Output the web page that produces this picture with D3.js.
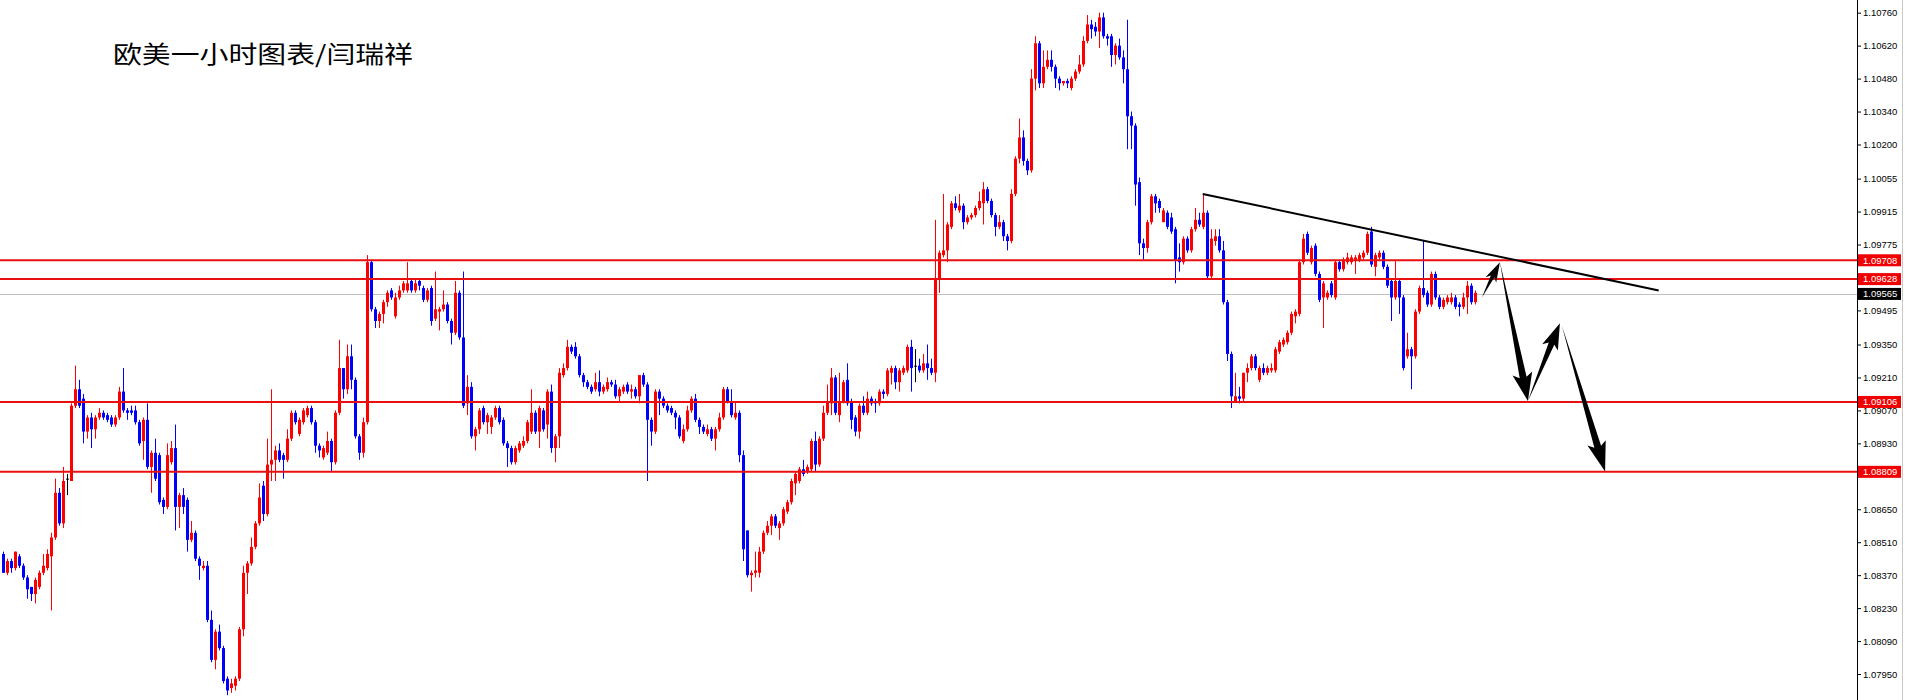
<!DOCTYPE html>
<html>
<head>
<meta charset="utf-8">
<script src="https://cdn.jsdelivr.net/npm/d3@7"></script>
<style>
html, body { margin: 0; padding: 0; background: #fff; overflow: hidden; }
svg { display: block; }
</style>
</head>
<body>
<svg id="chart" width="1905" height="700"></svg>
<script>
// EURUSD 1 hour candles (oldest first)
const opens = [
  1.0846,1.0838,1.0843,1.0840,1.0845,1.0841,1.0836,1.0832,1.0829,1.0832,
  1.0838,1.0840,1.0845,1.0853,1.0872,1.0859,1.0878,1.0877,1.0909,1.0916,
  1.0912,1.0898,1.0904,1.0899,1.0904,1.0906,1.0905,1.0904,1.0901,1.0904,
  1.0915,1.0907,1.0907,1.0907,1.0902,1.0894,1.0903,1.0883,1.0889,1.0888,
  1.0869,1.0866,1.0885,1.0891,1.0866,1.0871,1.0869,1.0852,1.0855,1.0844,
  1.0840,1.0841,1.0818,1.0801,1.0813,1.0806,1.0793,1.0789,1.0790,1.0793,
  1.0814,1.0838,1.0842,1.0849,1.0859,1.0875,1.0863,1.0884,1.0886,1.0890,
  1.0888,1.0886,1.0895,1.0906,1.0897,1.0902,1.0905,1.0908,1.0902,1.0892,
  1.0887,1.0889,1.0894,1.0885,1.0906,1.0925,1.0916,1.0930,1.0920,1.0896,
  1.0889,1.0902,1.0970,1.0950,1.0945,1.0948,1.0953,1.0958,1.0947,1.0955,
  1.0958,1.0958,1.0962,1.0958,1.0962,1.0959,1.0954,1.0959,1.0946,1.0949,
  1.0950,1.0952,1.0945,1.0940,1.0957,1.0938,1.0910,1.0917,1.0896,1.0899,
  1.0908,1.0902,1.0900,1.0904,1.0908,1.0903,1.0893,1.0891,1.0885,1.0890,
  1.0892,1.0894,1.0898,1.0906,1.0898,1.0907,1.0901,1.0915,1.0891,1.0896,
  1.0922,1.0925,1.0934,1.0934,1.0930,1.0922,1.0919,1.0917,1.0916,1.0919,
  1.0915,1.0916,1.0919,1.0918,1.0913,1.0915,1.0918,1.0915,1.0916,1.0913,
  1.0922,1.0918,1.0903,1.0898,1.0915,1.0912,1.0909,1.0908,1.0906,1.0904,
  1.0894,1.0899,1.0907,1.0912,1.0903,1.0900,1.0897,1.0899,1.0895,1.0899,
  1.0904,1.0916,1.0911,1.0904,1.0906,1.0888,1.0856,1.0837,1.0838,1.0838,
  1.0847,1.0855,1.0858,1.0862,1.0857,1.0859,1.0864,1.0868,1.0876,1.0877,
  1.0882,1.0881,1.0882,1.0894,1.0884,1.0895,1.0906,1.0910,1.0921,1.0905,
  1.0911,1.0920,1.0911,1.0904,1.0898,1.0909,1.0906,1.0912,1.0911,1.0910,
  1.0915,1.0914,1.0923,1.0925,1.0919,1.0923,1.0924,1.0934,1.0926,1.0926,
  1.0924,1.0927,1.0925,1.0923,1.0963,1.0973,1.0975,1.0985,1.0995,1.0992,
  1.0994,1.0987,1.0989,1.0990,1.0993,1.0995,1.1001,1.0996,1.0990,1.0985,
  1.0987,1.0981,1.0979,1.0999,1.1014,1.1023,1.1013,1.1009,1.1048,1.1063,
  1.1046,1.1053,1.1056,1.1053,1.1048,1.1046,1.1047,1.1044,1.1048,1.1051,
  1.1054,1.1064,1.1071,1.1070,1.1068,1.1074,1.1066,1.1066,1.1058,1.1062,
  1.1057,1.1052,1.1032,1.1028,1.1004,1.0978,1.0976,1.0987,1.0998,1.0996,
  1.0987,1.0991,1.0989,1.0984,1.0972,1.0970,1.0980,1.0975,1.0984,1.0988,
  1.0985,1.0991,1.0964,1.0979,1.0981,1.0975,1.0953,1.0931,1.0911,1.0913,
  1.0912,1.0923,1.0925,1.0930,1.0920,1.0925,1.0923,1.0924,1.0924,1.0932,
  1.0935,1.0936,1.0940,1.0947,1.0948,1.0970,1.0982,1.0970,1.0977,1.0965,
  1.0955,1.0955,1.0961,1.0955,1.0970,1.0967,1.0970,1.0970,1.0971,1.0971,
  1.0972,1.0974,1.0983,1.0968,1.0972,1.0974,1.0968,1.0962,1.0955,1.0962,
  1.0955,1.0930,1.0933,1.0930,1.0949,1.0959,1.0957,1.0952,1.0965,1.0955,
  1.0951,1.0953,1.0953,1.0955,1.0952,1.0951,1.0955,1.0960,1.0953
];
const highs = [
  1.0847,1.0844,1.0844,1.0847,1.0846,1.0842,1.0837,1.0832,1.0836,1.0839,
  1.0846,1.0848,1.0855,1.0878,1.0874,1.0883,1.0880,1.0910,1.0926,1.0920,
  1.0914,1.0905,1.0906,1.0905,1.0908,1.0907,1.0906,1.0905,1.0905,1.0917,
  1.0925,1.0908,1.0909,1.0909,1.0903,1.0904,1.0910,1.0890,1.0895,1.0889,
  1.0870,1.0893,1.0894,1.0901,1.0872,1.0874,1.0870,1.0860,1.0856,1.0845,
  1.0843,1.0843,1.0822,1.0814,1.0816,1.0807,1.0794,1.0793,1.0794,1.0815,
  1.0841,1.0843,1.0853,1.0860,1.0876,1.0877,1.0895,1.0916,1.0892,1.0893,
  1.0889,1.0899,1.0907,1.0907,1.0904,1.0908,1.0909,1.0909,1.0903,1.0893,
  1.0892,1.0898,1.0895,1.0907,1.0937,1.0925,1.0935,1.0935,1.0921,1.0897,
  1.0904,1.0973,1.0971,1.0951,1.0949,1.0954,1.0958,1.0959,1.0957,1.0960,
  1.0962,1.0970,1.0963,1.0963,1.0963,1.0960,1.0959,1.0960,1.0966,1.0951,
  1.0958,1.0953,1.0946,1.0962,1.0958,1.0966,1.0922,1.0919,1.0900,1.0908,
  1.0909,1.0906,1.0905,1.0909,1.0909,1.0904,1.0894,1.0892,1.0892,1.0894,
  1.0896,1.0903,1.0916,1.0907,1.0909,1.0908,1.0916,1.0918,1.0897,1.0925,
  1.0927,1.0937,1.0935,1.0936,1.0931,1.0923,1.0920,1.0918,1.0923,1.0924,
  1.0918,1.0921,1.0920,1.0920,1.0917,1.0918,1.0919,1.0918,1.0917,1.0922,
  1.0923,1.0919,1.0904,1.0916,1.0916,1.0913,1.0910,1.0909,1.0907,1.0905,
  1.0901,1.0909,1.0913,1.0914,1.0904,1.0901,1.0901,1.0900,1.0900,1.0906,
  1.0917,1.0917,1.0916,1.0911,1.0907,1.0890,1.0856,1.0839,1.0847,1.0849,
  1.0856,1.0860,1.0863,1.0863,1.0860,1.0866,1.0869,1.0878,1.0881,1.0883,
  1.0886,1.0884,1.0895,1.0898,1.0896,1.0909,1.0918,1.0925,1.0922,1.0923,
  1.0920,1.0927,1.0912,1.0905,1.0910,1.0913,1.0915,1.0913,1.0912,1.0916,
  1.0916,1.0925,1.0926,1.0926,1.0925,1.0926,1.0935,1.0937,1.0933,1.0929,
  1.0931,1.0935,1.0929,1.0988,1.0975,1.0999,1.0987,1.0996,1.0998,1.0999,
  1.0995,1.0990,1.0991,1.0994,1.1000,1.1004,1.1002,1.0997,1.0991,1.0990,
  1.0988,1.0982,1.1001,1.1015,1.1031,1.1026,1.1014,1.1052,1.1066,1.1064,
  1.1060,1.1060,1.1060,1.1054,1.1049,1.1047,1.1048,1.1049,1.1052,1.1058,
  1.1066,1.1075,1.1073,1.1072,1.1076,1.1076,1.1067,1.1067,1.1063,1.1065,
  1.1060,1.1073,1.1034,1.1029,1.1006,1.0980,1.0988,1.0999,1.0999,1.0997,
  1.0993,1.0992,1.0991,1.0985,1.0978,1.0981,1.0981,1.0985,1.0993,1.0991,
  1.0999,1.0992,1.0984,1.0984,1.0984,1.0979,1.0954,1.0932,1.0923,1.0917,
  1.0923,1.0927,1.0931,1.0931,1.0926,1.0927,1.0926,1.0927,1.0934,1.0937,
  1.0938,1.0941,1.0949,1.0950,1.0971,1.0982,1.0983,1.0977,1.0978,1.0966,
  1.0962,1.0958,1.0962,1.0971,1.0971,1.0972,1.0974,1.0973,1.0973,1.0974,
  1.0975,1.0983,1.0985,1.0974,1.0975,1.0975,1.0969,1.0963,1.0971,1.0963,
  1.0956,1.0940,1.0934,1.0950,1.0960,1.0979,1.0958,1.0966,1.0966,1.0956,
  1.0955,1.0956,1.0957,1.0956,1.0953,1.0957,1.0962,1.0961,1.0958
];
const lows = [
  1.0838,1.0837,1.0838,1.0839,1.0840,1.0835,1.0827,1.0826,1.0825,1.0831,
  1.0837,1.0839,1.0822,1.0852,1.0858,1.0857,1.0871,1.0877,1.0908,1.0908,
  1.0893,1.0895,1.0891,1.0895,1.0903,1.0903,1.0902,1.0900,1.0900,1.0903,
  1.0906,1.0903,1.0905,1.0901,1.0892,1.0886,1.0882,1.0872,1.0877,1.0867,
  1.0863,1.0865,1.0884,1.0856,1.0857,1.0863,1.0847,1.0851,1.0843,1.0835,
  1.0839,1.0817,1.0800,1.0797,1.0805,1.0791,1.0786,1.0787,1.0788,1.0792,
  1.0811,1.0829,1.0841,1.0848,1.0858,1.0860,1.0862,1.0877,1.0877,1.0885,
  1.0878,1.0885,1.0894,1.0901,1.0896,1.0901,1.0904,1.0901,1.0889,1.0887,
  1.0886,1.0888,1.0881,1.0884,1.0905,1.0912,1.0914,1.0916,1.0895,1.0886,
  1.0887,1.0901,1.0949,1.0942,1.0942,1.0944,1.0951,1.0954,1.0946,1.0954,
  1.0957,1.0957,1.0957,1.0957,1.0958,1.0953,1.0953,1.0943,1.0945,1.0941,
  1.0949,1.0944,1.0935,1.0939,1.0937,1.0908,1.0905,1.0895,1.0890,1.0897,
  1.0901,1.0897,1.0897,1.0903,1.0901,1.0892,1.0883,1.0884,1.0884,1.0889,
  1.0891,1.0893,1.0897,1.0897,1.0891,1.0898,1.0895,1.0889,1.0885,1.0891,
  1.0921,1.0924,1.0931,1.0929,1.0921,1.0917,1.0916,1.0914,1.0915,1.0913,
  1.0914,1.0915,1.0917,1.0912,1.0911,1.0914,1.0914,1.0912,1.0912,1.0910,
  1.0917,1.0877,1.0892,1.0897,1.0905,1.0908,1.0906,1.0905,1.0899,1.0895,
  1.0893,1.0898,1.0906,1.0902,1.0897,1.0897,1.0896,1.0894,1.0890,1.0898,
  1.0903,1.0910,1.0904,1.0903,1.0885,1.0843,1.0836,1.0830,1.0836,1.0836,
  1.0846,1.0854,1.0854,1.0857,1.0852,1.0858,1.0863,1.0867,1.0871,1.0876,
  1.0879,1.0880,1.0881,1.0881,1.0883,1.0894,1.0905,1.0905,1.0905,1.0902,
  1.0910,1.0909,1.0899,1.0896,1.0895,1.0905,1.0905,1.0909,1.0906,1.0909,
  1.0912,1.0913,1.0918,1.0916,1.0915,1.0922,1.0923,1.0915,1.0919,1.0923,
  1.0923,1.0920,1.0922,1.0919,1.0957,1.0972,1.0970,1.0984,1.0992,1.0991,
  1.0984,1.0986,1.0988,1.0989,1.0992,1.0986,1.0995,1.0989,1.0981,1.0984,
  1.0979,1.0975,1.0978,1.0998,1.1012,1.1011,1.1007,1.1008,1.1043,1.1044,
  1.1044,1.1052,1.1051,1.1044,1.1043,1.1045,1.1044,1.1043,1.1047,1.1050,
  1.1053,1.1063,1.1065,1.1066,1.1061,1.1065,1.1062,1.1053,1.1054,1.1056,
  1.1046,1.1018,1.1018,1.0994,1.0973,1.0971,1.0974,1.0986,1.0991,1.0991,
  1.0987,1.0984,1.0982,1.0961,1.0966,1.0969,1.0974,1.0974,1.0983,1.0985,
  1.0984,1.0963,1.0963,1.0977,1.0974,1.0952,1.0928,1.0908,1.0911,1.0910,
  1.0911,1.0919,1.0924,1.0924,1.0919,1.0922,1.0922,1.0923,1.0923,1.0931,
  1.0934,1.0935,1.0939,1.0944,1.0947,1.0969,1.0973,1.0969,1.0964,1.0953,
  1.0942,1.0954,1.0955,1.0954,1.0966,1.0966,1.0969,1.0969,1.0965,1.0970,
  1.0971,1.0973,1.0968,1.0964,1.0971,1.0967,1.0959,1.0945,1.0954,1.0948,
  1.0924,1.0929,1.0916,1.0929,1.0948,1.0955,1.0951,1.0951,1.0954,1.0950,
  1.0950,1.0952,1.0952,1.0950,1.0947,1.0950,1.0948,1.0952,1.0952
];
const closes = [
  1.0838,1.0843,1.0840,1.0847,1.0841,1.0836,1.0831,1.0829,1.0835,1.0838,
  1.0841,1.0846,1.0853,1.0872,1.0859,1.0877,1.0878,1.0909,1.0916,1.0909,
  1.0898,1.0904,1.0899,1.0904,1.0906,1.0904,1.0903,1.0901,1.0904,1.0915,
  1.0907,1.0906,1.0906,1.0902,1.0893,1.0903,1.0883,1.0889,1.0878,1.0868,
  1.0866,1.0888,1.0891,1.0866,1.0871,1.0866,1.0852,1.0855,1.0844,1.0841,
  1.0841,1.0818,1.0801,1.0813,1.0806,1.0792,1.0788,1.0791,1.0793,1.0814,
  1.0838,1.0842,1.0849,1.0859,1.0870,1.0863,1.0884,1.0886,1.0890,1.0886,
  1.0886,1.0895,1.0906,1.0902,1.0903,1.0907,1.0908,1.0902,1.0892,1.0890,
  1.0891,1.0894,1.0885,1.0906,1.0925,1.0916,1.0930,1.0920,1.0896,1.0889,
  1.0902,1.0970,1.0950,1.0945,1.0948,1.0953,1.0957,1.0955,1.0955,1.0958,
  1.0961,1.0961,1.0958,1.0961,1.0960,1.0954,1.0958,1.0945,1.0950,1.0950,
  1.0952,1.0945,1.0940,1.0957,1.0938,1.0909,1.0917,1.0896,1.0899,1.0907,
  1.0902,1.0905,1.0904,1.0908,1.0902,1.0893,1.0891,1.0885,1.0891,1.0893,
  1.0894,1.0902,1.0906,1.0898,1.0908,1.0899,1.0915,1.0891,1.0896,1.0923,
  1.0925,1.0934,1.0932,1.0930,1.0922,1.0919,1.0917,1.0915,1.0919,1.0915,
  1.0917,1.0919,1.0918,1.0913,1.0916,1.0917,1.0915,1.0916,1.0913,1.0922,
  1.0918,1.0903,1.0898,1.0915,1.0912,1.0909,1.0907,1.0906,1.0904,1.0896,
  1.0899,1.0907,1.0912,1.0903,1.0900,1.0898,1.0899,1.0895,1.0899,1.0904,
  1.0916,1.0911,1.0905,1.0906,1.0888,1.0848,1.0837,1.0838,1.0839,1.0847,
  1.0855,1.0858,1.0862,1.0858,1.0859,1.0865,1.0868,1.0877,1.0880,1.0882,
  1.0880,1.0883,1.0894,1.0884,1.0895,1.0906,1.0911,1.0921,1.0906,1.0911,
  1.0919,1.0910,1.0903,1.0898,1.0909,1.0906,1.0912,1.0910,1.0910,1.0915,
  1.0914,1.0924,1.0925,1.0919,1.0924,1.0925,1.0934,1.0925,1.0926,1.0924,
  1.0927,1.0925,1.0923,1.0963,1.0974,1.0975,1.0986,1.0995,1.0993,1.0994,
  1.0987,1.0989,1.0990,1.0993,1.0996,1.1001,1.0996,1.0990,1.0985,1.0987,
  1.0981,1.0979,1.0999,1.1014,1.1023,1.1013,1.1009,1.1048,1.1063,1.1046,
  1.1053,1.1056,1.1053,1.1048,1.1046,1.1047,1.1046,1.1048,1.1051,1.1054,
  1.1064,1.1071,1.1069,1.1068,1.1074,1.1066,1.1065,1.1058,1.1062,1.1057,
  1.1052,1.1032,1.1028,1.1003,1.0978,1.0976,1.0987,1.0998,1.0995,1.0993,
  1.0992,1.0985,1.0983,1.0971,1.0970,1.0980,1.0975,1.0984,1.0988,1.0986,
  1.0991,1.0964,1.0980,1.0981,1.0975,1.0953,1.0931,1.0913,1.0913,1.0912,
  1.0923,1.0925,1.0930,1.0925,1.0925,1.0923,1.0925,1.0925,1.0933,1.0936,
  1.0937,1.0940,1.0948,1.0949,1.0970,1.0980,1.0974,1.0976,1.0965,1.0954,
  1.0961,1.0957,1.0956,1.0970,1.0967,1.0971,1.0972,1.0972,1.0972,1.0973,
  1.0974,1.0982,1.0969,1.0973,1.0974,1.0968,1.0960,1.0955,1.0962,1.0955,
  1.0925,1.0933,1.0930,1.0949,1.0959,1.0956,1.0952,1.0965,1.0955,1.0951,
  1.0954,1.0955,1.0955,1.0951,1.0951,1.0955,1.0960,1.0953,1.0957
];

// support / resistance levels drawn on the chart
const levels = [1.09708, 1.09628, 1.09106, 1.08809];
const bidPrice = 1.09565;

// price axis marks as printed on the right scale; the last two sit under price tags
const tickVals = [1.10760, 1.10620, 1.10480, 1.10340, 1.10200, 1.10055, 1.09915, 1.09775,
  1.09495, 1.09350, 1.09210, 1.09070, 1.08930, 1.08650, 1.08510,
  1.08370, 1.08230, 1.08090, 1.07950];
const hiddenTicks = [1.09635, 1.08790];

// trend line (bar index, price) and the hand drawn forecast arrows
const trendLine = [[300, 1.0999], [414, 1.0958]];
const arrows = [
  [[369.8, 1.0955], [374.3, 1.0970]],
  [[374.3, 1.0970], [381.3, 1.0911]],
  [[381.3, 1.0911], [389.3, 1.0944]],
  [[389.8, 1.0943], [400.6, 1.0881]]
];

const title = '欧美一小时图表/闫瑞祥';

const W = 1905, H = 700;
const axisX = 1857;
const svg = d3.select('#chart');

const n = Math.min(opens.length, highs.length, lows.length, closes.length);
const candles = d3.range(n).map(i => ({ i, o: opens[i], h: highs[i], l: lows[i], c: closes[i] }));

const x = d3.scaleLinear().domain([0, 368]).range([2.7, 1474.7]);
const y = d3.scaleLinear().domain([1.0795, 1.1076]).range([674, 12.7]);

const bull = '#ff0000', bear = '#0000ff';
const colorOf = d => d.c > d.o ? bull : (d.c < d.o ? bear : '#000000');

// gray bid line
svg.append('line')
  .attr('x1', 0).attr('x2', axisX)
  .attr('y1', Math.round(y(bidPrice)) + 0.5).attr('y2', Math.round(y(bidPrice)) + 0.5)
  .attr('stroke', '#c0c0c0').attr('stroke-width', 1);

// candles
const cg = svg.append('g');
cg.selectAll('line.wick').data(candles).join('line')
  .attr('class', 'wick')
  .attr('x1', d => Math.round(x(d.i)) + 0.5)
  .attr('x2', d => Math.round(x(d.i)) + 0.5)
  .attr('y1', d => y(d.h))
  .attr('y2', d => y(d.l))
  .attr('stroke', colorOf)
  .attr('stroke-width', 1);

cg.selectAll('rect.body').data(candles).join('rect')
  .attr('class', 'body')
  .attr('x', d => Math.round(x(d.i)) - 1)
  .attr('width', 3)
  .attr('y', d => y(Math.max(d.o, d.c)))
  .attr('height', d => Math.max(1, Math.abs(y(d.o) - y(d.c))))
  .attr('fill', colorOf);

// red horizontal levels
svg.selectAll('line.level').data(levels).join('line')
  .attr('class', 'level')
  .attr('x1', 0).attr('x2', axisX)
  .attr('y1', d => y(d)).attr('y2', d => y(d))
  .attr('stroke', '#e81010').attr('stroke-width', 2);

// trend line
svg.append('line')
  .attr('x1', x(trendLine[0][0])).attr('y1', y(trendLine[0][1]))
  .attr('x2', x(trendLine[1][0])).attr('y2', y(trendLine[1][1]))
  .attr('stroke', '#000').attr('stroke-width', 2);

// forecast arrows as tapered wedges with a head
function arrowPoints(p0, p1, headLen, headW, shaftW) {
  const dx = p1[0] - p0[0], dy = p1[1] - p0[1];
  const len = Math.hypot(dx, dy);
  const ux = dx / len, uy = dy / len, px = -uy, py = ux;
  const bx = p1[0] - ux * headLen, by = p1[1] - uy * headLen;
  const back = 4;
  return [
    [p0[0], p0[1]],
    [bx + px * shaftW / 2, by + py * shaftW / 2],
    [bx - ux * back + px * headW / 2, by - uy * back + py * headW / 2],
    [p1[0], p1[1]],
    [bx - ux * back - px * headW / 2, by - uy * back - py * headW / 2],
    [bx - px * shaftW / 2, by - py * shaftW / 2]
  ];
}
const arrowSizes = [[16, 12, 4], [24, 20, 7], [22, 17, 6], [26, 19, 7]];
svg.selectAll('polygon.arrow').data(arrows).join('polygon')
  .attr('class', 'arrow')
  .attr('points', (d, k) => {
    const p0 = [x(d[0][0]), y(d[0][1])], p1 = [x(d[1][0]), y(d[1][1])];
    const s = arrowSizes[k];
    return arrowPoints(p0, p1, s[0], s[1], s[2]).map(p => p.join(',')).join(' ');
  })
  .attr('fill', '#000');

// price axis on the right
const axis = svg.append('g')
  .attr('transform', `translate(${axisX},0)`)
  .call(d3.axisRight(y).tickValues(tickVals).tickFormat(d3.format('.5f'))
    .tickSizeInner(4).tickSizeOuter(0).tickPadding(2));
axis.select('.domain').remove();
axis.selectAll('text')
  .attr('font-family', '"Liberation Sans", Arial, sans-serif')
  .attr('font-size', 9.5)
  .attr('fill', '#000');
// tick marks whose labels are covered by the price tags
svg.selectAll('line.hidden-tick').data(hiddenTicks).join('line')
  .attr('class', 'hidden-tick')
  .attr('x1', axisX).attr('x2', axisX + 4)
  .attr('y1', d => Math.round(y(d)) + 0.5).attr('y2', d => Math.round(y(d)) + 0.5)
  .attr('stroke', '#000');
svg.append('line')
  .attr('x1', axisX + 0.5).attr('x2', axisX + 0.5)
  .attr('y1', 0).attr('y2', H)
  .attr('stroke', '#000').attr('stroke-width', 1);

// price tags on the axis
const tags = levels.map(v => ({ v, fill: '#f00000' })).concat([{ v: bidPrice, fill: '#000000' }]);
const tg = svg.append('g');
tg.selectAll('rect').data(tags).join('rect')
  .attr('x', axisX + 1).attr('width', 43)
  .attr('y', d => y(d.v) - 6).attr('height', 12)
  .attr('fill', d => d.fill);
tg.selectAll('text').data(tags).join('text')
  .attr('x', axisX + 6).attr('y', d => y(d.v))
  .attr('dy', '0.34em')
  .attr('font-family', '"Liberation Sans", Arial, sans-serif')
  .attr('font-size', 9.5)
  .attr('fill', '#fff')
  .text(d => d3.format('.5f')(d.v));

// right border of the window
svg.append('line')
  .attr('x1', 1902.5).attr('x2', 1902.5).attr('y1', 0).attr('y2', H)
  .attr('stroke', '#c8c8c8').attr('stroke-width', 1);

// title
svg.append('text')
  .attr('x', 113).attr('y', 63)
  .attr('font-family', '"Noto Sans CJK SC", sans-serif')
  .attr('font-size', 24)
  .attr('textLength', 300)
  .attr('lengthAdjust', 'spacingAndGlyphs')
  .attr('fill', '#000')
  .text(title);
</script>
</body>
</html>
